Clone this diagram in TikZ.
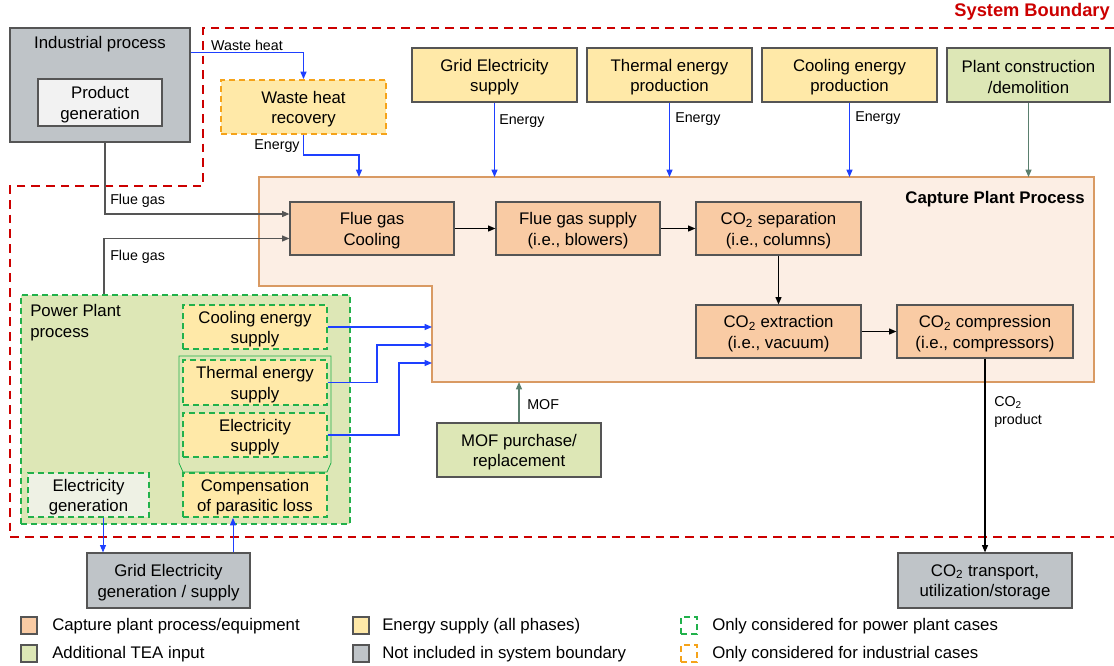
\documentclass[tikz,border=0pt]{standalone}
\usepackage{fontspec}
\setmainfont{Liberation Sans}
\usetikzlibrary{arrows.meta,calc}
\definecolor{peach}{HTML}{F9CBA4}
\definecolor{lyellow}{HTML}{FFE9A8}
\definecolor{lgreen}{HTML}{DDE7B6}
\definecolor{lgray}{HTML}{BFC4C8}
\definecolor{pgray}{HTML}{F2F2F2}
\definecolor{egen}{HTML}{EEF1E4}
\definecolor{capfill}{HTML}{FCEEE4}
\definecolor{capedge}{HTML}{D99A63}
\definecolor{edge}{HTML}{555555}
\definecolor{arrblue}{HTML}{1E40FF}
\definecolor{arrgreen}{HTML}{5A7F6E}
\definecolor{bred}{HTML}{CC0000}
\definecolor{dgreen}{HTML}{21B14B}
\definecolor{dorange}{HTML}{F5A31A}
\newcommand\mfs{\fontsize{12.6}{15.5}\selectfont}
\newcommand\sfs{\fontsize{10.7}{13.5}\selectfont}
% \bx[style]{name}{x1}{y1}{x2}{y2}{text}
\newcommand\bx[7][]{\node[box,#1,minimum width={(#5-#3)*0.75pt},minimum height={(#6-#4)*0.75pt}] (#2) at ({(#3+#5)/2},{(#4+#6)/2}) {};
  \node[btext] (#2-t) at ([yshift=-1.5pt]#2.center) {#7};}
\begin{document}
\begin{tikzpicture}[x=0.75pt,y=-0.75pt,
  box/.style={draw=edge, line width=0.9pt, inner sep=0pt},
  btext/.style={inner sep=0pt, align=center, font=\mfs},
  greendash/.style={draw=dgreen, line width=1.4pt, dash pattern=on 4.5pt off 3pt},
  orangedash/.style={draw=dorange, line width=1.4pt, dash pattern=on 4.5pt off 3pt},
  arr/.style={line width=0.9pt, -{Triangle[length=5.5pt,width=4.5pt]}},
  blk/.style={arr, draw=black},
  blu/.style={arr, draw=arrblue},
  grn/.style={arr, draw=arrgreen},
  lbl/.style={font=\sfs, inner sep=0pt},
  leg/.style={font=\mfs, inner sep=0pt, anchor=west},
  boundary/.style={draw=bred, line width=1.5pt, dash pattern=on 6.5pt off 4.5pt}
]
\useasboundingbox (0,0) rectangle (1114,665);

% system boundary
\draw[boundary] (1114,28) -- (203,28) -- (203,186) -- (10,186) -- (10,537) -- (1114,537);
\node[font=\fontsize{13.7}{16}\selectfont\bfseries, text=bred, anchor=east, inner sep=0pt] (sbtitle) at (1110,12) {System Boundary};

% capture plant region
\draw[fill=capfill, draw=capedge, line width=1pt] (259,177) -- (1094,177) -- (1094,382) -- (432,382) -- (432,286) -- (259,286) -- cycle;
\coordinate (cap) at (676,177);
\coordinate (capin) at (432,382);
\coordinate (capT) at (432,345);
\coordinate (capE) at (432,363);
\node[font=\mfs\bfseries, anchor=east, inner sep=0pt] (captitle) at (1085,199) {Capture Plant Process};

% power plant region
\bx[greendash, fill=lgreen]{pp}{21}{295}{350}{524}{}
\node[font=\mfs, align=left, anchor=north west, inner sep=0pt] (pptitle) at (30,304) {Power Plant\\process};
\draw[draw=dgreen, line width=0.6pt] (179,356) -- (331,356) -- (331,463) -- (327,472) -- (183,472) -- (179,463) -- cycle;

% industrial process
\bx[fill=lgray]{ind}{10}{28}{190}{142}{}
\node[font=\mfs, inner sep=0pt] (indtitle) at (100,44) {Industrial process};
\bx[fill=pgray]{prod}{38}{79}{162}{126}{Product\\generation}

% waste heat recovery
\bx[orangedash, fill=lyellow]{whr}{221}{80}{386}{134}{Waste heat\\recovery}

% top supply boxes
\bx[fill=lyellow]{grid}{412}{48}{577}{102}{Grid Electricity\\supply}
\bx[fill=lyellow]{therm}{587}{48}{752}{102}{Thermal energy\\production}
\bx[fill=lyellow]{cool}{762}{48}{937}{102}{Cooling energy\\production}
\bx[fill=lgreen]{constr}{947}{48}{1110}{102}{Plant construction\\/demolition}

% process boxes
\bx[fill=peach]{fgc}{290}{202}{454}{255}{Flue gas\\Cooling}
\bx[fill=peach]{fgs}{496}{202}{660}{255}{Flue gas supply\\(i.e., blowers)}
\bx[fill=peach]{sep}{696}{202}{861}{255}{CO\textsubscript{2} separation\\(i.e., columns)}
\bx[fill=peach]{ext}{696}{305}{861}{358}{CO\textsubscript{2} extraction\\(i.e., vacuum)}
\bx[fill=peach]{comp}{897}{305}{1073}{358}{CO\textsubscript{2} compression\\(i.e., compressors)}

% power plant sub boxes
\bx[greendash, fill=lyellow]{ppcool}{183}{305}{327}{349}{Cooling energy\\supply}
\bx[greendash, fill=lyellow]{pptherm}{183}{360}{327}{405}{Thermal energy\\supply}
\bx[greendash, fill=lyellow]{ppelec}{183}{413}{327}{457}{Electricity\\supply}
\bx[greendash, fill=lyellow]{comploss}{183}{473}{327}{517}{Compensation\\of parasitic loss}
\bx[greendash, fill=egen]{elecgen}{28}{473}{149}{517}{Electricity\\generation}

% MOF and outside boxes
\bx[fill=lgreen]{mof}{437}{423}{601}{477}{MOF purchase/\\replacement}
\bx[fill=lgray]{gridgen}{87}{553}{250}{608}{Grid Electricity\\generation / supply}
\bx[fill=lgray]{trans}{898}{553}{1072}{608}{CO\textsubscript{2} transport,\\utilization/storage}

% connectors
\draw[blu] ($(ind.north east)+(0,25)$) -| (whr.north);
\node[lbl] (lwh) at (247,45) {Waste heat};
\draw[blu] (whr.south) -- ++(0,20) -| ($(cap)+(-317,0)$);
\node[lbl] (len0) at (277,146) {Energy};

\draw[blu] (grid.south) -- (grid.south |- cap);
\draw[blu] (therm.south) -- (therm.south |- cap);
\draw[blu] (cool.south) -- (cool.south |- cap);
\draw[grn] (constr.south) -- (constr.south |- cap);
\node[lbl, anchor=west] (len1) at (499,121) {Energy};
\node[lbl, anchor=west] (len2) at (675,119) {Energy};
\node[lbl, anchor=west] (len3) at (855,118) {Energy};

\draw[blk, draw=edge] ($(ind.south)+(5,0)$) |- ($(fgc.west)+(0,-14.5)$);
\draw[blk, draw=edge] ($(pp.north west)+(84,0)$) |- ($(fgc.west)+(0,10)$);
\node[lbl, anchor=west] (lfg1) at (110,201) {Flue gas};
\node[lbl, anchor=west] (lfg2) at (110,257) {Flue gas};

\draw[blk] (fgc.east) -- (fgs.west);
\draw[blk] (fgs.east) -- (sep.west);
\draw[blk] (sep.south) -- (ext.north);
\draw[blk] (ext.east) -- (comp.west);
\draw[blk] (comp.south) -- (trans.north);
\node[lbl, anchor=west, align=left] (lco2) at (994,412) {CO\textsubscript{2}\\product};

\draw[blu] (ppcool.east) -- (ppcool.east -| capin);
\draw[blu] (pptherm.east) -- ++(49,0) |- (capT);
\draw[blu] (ppelec.east) -- ++(71,0) |- (capE);

\draw[grn] (mof.north) -- (mof.north |- capin);
\node[lbl, anchor=west] (lmof) at (527,405) {MOF};

\coordinate (egs) at ($(elecgen.south)+(14.5,0)$);
\draw[blu, line width=0.7pt] (egs) -- (egs |- gridgen.north);
\coordinate (ggn) at ($(gridgen.north)+(64.5,0)$);
\draw[blu, line width=0.7pt] (ggn) -- (ggn |- comploss.south);

% legend
\bx[line width=0.8pt, fill=peach]{lg1}{21}{617}{37}{634}{}
\node[leg] (lt1) at (52,626) {Capture plant process/equipment};
\bx[line width=0.8pt, fill=lgreen]{lg2}{21}{645}{37}{662}{}
\node[leg] (lt2) at (52,654) {Additional TEA input};
\bx[line width=0.8pt, fill=lyellow]{lg3}{353}{617}{369}{634}{}
\node[leg] (lt3) at (382,626) {Energy supply (all phases)};
\bx[line width=0.8pt, fill=lgray]{lg4}{353}{645}{369}{662}{}
\node[leg] (lt4) at (382,654) {Not included in system boundary};
\bx[greendash, line width=1.1pt]{lg5}{681}{617}{697}{634}{}
\node[leg] (lt5) at (712,626) {Only considered for power plant cases};
\bx[orangedash, line width=1.1pt]{lg6}{681}{645}{697}{662}{}
\node[leg] (lt6) at (712,654) {Only considered for industrial cases};
\end{tikzpicture}
\end{document}
